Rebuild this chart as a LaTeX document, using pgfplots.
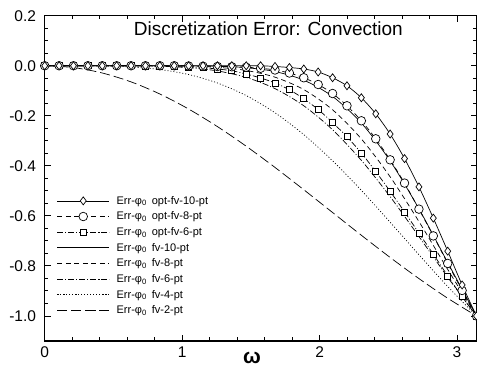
\documentclass[border=0pt]{standalone}
\usepackage{fontspec}
\setmainfont{Liberation Sans}
\usepackage{pgfplots}
\usepackage{pgfplotstable}
\pgfplotsset{compat=1.18}

\pgfplotstableread{
w o10 o8 o6
0 0 0 0
0.10472 0 0 0
0.20944 0 0 0
0.31416 0 0 0
0.41888 0 0 0
0.52360 0 0 0
0.62832 0 0 0
0.73304 0 0 -0.001
0.83776 0 0 -0.002
0.94248 0 0 -0.003
1.04720 0 -0.001 -0.005
1.15192 0 -0.002 -0.008
1.25664 0 -0.003 -0.013
1.36136 0 -0.004 -0.020
1.46608 0 -0.006 -0.033
1.57080 0 -0.010 -0.049
1.67552 -0.003 -0.017 -0.069
1.78024 -0.007 -0.029 -0.096
1.88496 -0.013 -0.048 -0.132
1.98968 -0.025 -0.075 -0.175
2.09440 -0.048 -0.111 -0.227
2.19911 -0.080 -0.160 -0.284
2.30383 -0.128 -0.220 -0.349
2.40855 -0.192 -0.292 -0.423
2.51327 -0.273 -0.376 -0.502
2.61799 -0.371 -0.469 -0.584
2.72271 -0.484 -0.573 -0.669
2.82743 -0.609 -0.680 -0.753
2.93215 -0.741 -0.790 -0.840
3.03687 -0.876 -0.898 -0.923
3.14159 -1 -1 -1
}\opt

\pgfplotstableread{
w f10 f8 f6 f4 f2
0 0 0 0 0 0
0.20944 0 0 0 -0.0001 -0.0073
0.41888 0 0 0 -0.0010 -0.0290
0.62832 0 0 -0.0004 -0.0050 -0.0645
0.83776 0 -0.0003 -0.0022 -0.0151 -0.1129
1.04720 -0.0004 -0.0017 -0.0076 -0.0352 -0.1730
1.25664 -0.0020 -0.0064 -0.0207 -0.0689 -0.2432
1.46608 -0.0077 -0.0188 -0.0466 -0.1192 -0.3216
1.67552 -0.0232 -0.0457 -0.0914 -0.1879 -0.4064
1.88496 -0.0577 -0.0954 -0.1600 -0.2753 -0.4955
2.09440 -0.1228 -0.1760 -0.2557 -0.3798 -0.5865
2.30383 -0.2288 -0.2924 -0.3781 -0.4980 -0.6774
2.51327 -0.3803 -0.4439 -0.5231 -0.6251 -0.7661
2.72271 -0.5717 -0.6226 -0.6824 -0.7553 -0.8506
2.93215 -0.7864 -0.8140 -0.8453 -0.8823 -0.9291
3.14159 -1 -1 -1 -1 -1
}\fv

\begin{document}
\begin{tikzpicture}
\begin{axis}[
  scale only axis,
  width=431.8pt, height=325.3pt,
  xmin=0, xmax=3.14159,
  ymin=-1.1, ymax=0.2,
  xtick={0,1,2,3},
  ytick={-1,-0.8,-0.6,-0.4,-0.2,0,0.2},
  minor x tick num=4,
  minor y tick num=3,
  tick align=inside,
  tick pos=both,
  major tick length=6pt,
  minor tick length=3.5pt,
  axis line style={line width=1.6pt},
  every tick/.style={black, line width=0.9pt},
  /pgf/number format/assume math mode=true,
  tick label style={font=\fontsize{15.5}{17}\selectfont, inner sep=0pt},
  yticklabel style={xshift=-8.5pt, /pgf/number format/.cd, fixed, fixed zerofill, precision=1},
  xticklabel style={yshift=-5.7pt},
  xlabel={ω},
  xlabel style={font=\fontsize{21}{23}\selectfont\bfseries, inner sep=0pt, at={(axis description cs:0.48,0)}, anchor=north, yshift=-10.5pt},
  reverse legend,
  legend cell align=left,
  legend style={at={(rel axis cs:0.0278,0.449)}, anchor=north west, draw=none, fill=none,
    inner sep=0pt, font=\fontsize{11}{12}\selectfont,
    nodes={inner sep=1pt}, row sep=4.2pt,
    /tikz/every odd column/.append style={column sep=6pt}},
  legend image code/.code={\draw[mark repeat=2,mark phase=2,#1] plot coordinates {(0pt,0pt) (26pt,0pt) (52pt,0pt)};},
]
\addplot[black, line width=0.7pt, smooth, dash pattern=on 10pt off 4pt] table[x=w, y=f2] {\fv};
\addlegendentry{Err-φ\textsubscript{0}\hspace{5pt}fv-2-pt}
\addplot[black, line width=0.7pt, smooth, dash pattern=on 1pt off 2pt] table[x=w, y=f4] {\fv};
\addlegendentry{Err-φ\textsubscript{0}\hspace{5pt}fv-4-pt}
\addplot[black, line width=0.7pt, smooth, dash pattern=on 6pt off 2pt on 1pt off 2pt] table[x=w, y=f6] {\fv};
\addlegendentry{Err-φ\textsubscript{0}\hspace{5pt}fv-6-pt}
\addplot[black, line width=0.7pt, smooth, dash pattern=on 5pt off 3.5pt] table[x=w, y=f8] {\fv};
\addlegendentry{Err-φ\textsubscript{0}\hspace{5pt}fv-8-pt}
\addplot[black, line width=0.7pt, smooth] table[x=w, y=f10] {\fv};
\addlegendentry{Err-φ\textsubscript{0}\hspace{5pt}fv-10-pt}
\addplot[black, line width=0.7pt, smooth, dash pattern=on 6pt off 2pt on 1pt off 2pt, mark=square*, mark size=3pt, mark options={solid, fill=white}] table[x=w, y=o6] {\opt};
\addlegendentry{Err-φ\textsubscript{0}\hspace{5pt}opt-fv-6-pt}
\addplot[black, line width=0.7pt, smooth, dash pattern=on 5pt off 3.5pt, mark=*, mark size=4.3pt, mark options={solid, fill=white}] table[x=w, y=o8] {\opt};
\addlegendentry{Err-φ\textsubscript{0}\hspace{5pt}opt-fv-8-pt}
\addplot[black, line width=0.7pt, smooth, mark=diamond*, mark size=4pt, mark options={solid, fill=white}] table[x=w, y=o10] {\opt};
\addlegendentry{Err-φ\textsubscript{0}\hspace{5pt}opt-fv-10-pt}
\node[anchor=base, font=\fontsize{19}{22}\selectfont] at (rel axis cs:0.518,0.9376) {Discretization Error: Convection};
\end{axis}
\pgfresetboundingbox
\path ([xshift=-44.7pt,yshift=-25pt]current axis.south west) rectangle ([xshift=0.5pt,yshift=15.7pt]current axis.north east);
\end{tikzpicture}
\end{document}
